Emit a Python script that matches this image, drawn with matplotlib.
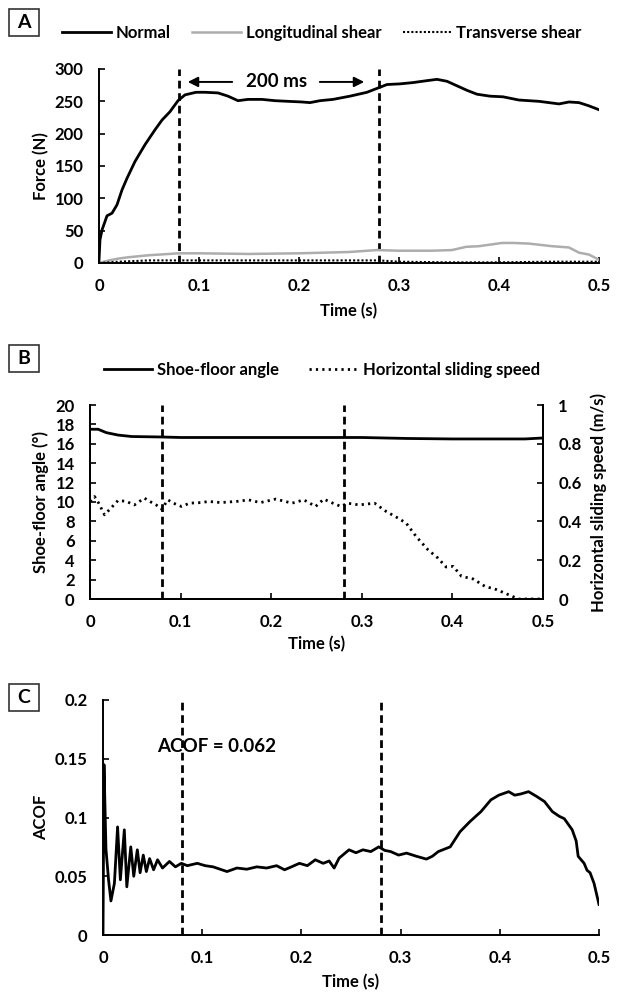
import numpy as np
import matplotlib.pyplot as plt
from matplotlib.patches import Rectangle

plt.rcParams['font.family'] = ['Lato', 'DejaVu Sans']
plt.rcParams['font.weight'] = 'bold'

# Panel A: forces (N)
normal_t = [0, 0.001, 0.003, 0.008, 0.013, 0.018, 0.023, 0.028, 0.036, 0.046,
            0.056, 0.063, 0.071, 0.079, 0.086, 0.097, 0.106, 0.119, 0.129, 0.139,
            0.149, 0.163, 0.176, 0.189, 0.203, 0.211, 0.221, 0.234, 0.251, 0.268,
            0.278, 0.288, 0.301, 0.314, 0.328, 0.338, 0.348, 0.358, 0.368, 0.378,
            0.391, 0.404, 0.42, 0.44, 0.46, 0.47, 0.48, 0.49, 0.5]
normal_f = [4, 36, 51, 73, 77, 90, 113, 131, 157, 183,
            206, 221, 234, 251, 260, 264, 264, 263, 258, 251,
            253, 253, 251, 250, 249, 248, 251, 253, 258, 264,
            270, 276, 277, 279, 282, 284, 281, 274, 267, 261,
            258, 257, 252, 250, 246, 249, 248, 243, 237]

long_t = [0, 0.005, 0.01, 0.02, 0.03, 0.05, 0.08, 0.1, 0.15, 0.2, 0.25, 0.278,
          0.3, 0.333, 0.353, 0.367, 0.38, 0.403, 0.415, 0.43, 0.453, 0.47, 0.48,
          0.49, 0.5]
long_f = [0, 2, 4, 7, 9, 12, 15, 15, 14, 15, 17, 20,
          19, 19, 20, 25, 26, 31, 31, 30, 26, 24, 16,
          13, 5]

trans_t = [0, 0.02, 0.05, 0.1, 0.2, 0.28, 0.3, 0.35, 0.4, 0.45, 0.5]
trans_f = [0, 2, 4, 4, 4, 4, 2, 1, 1, 2, 2]

# Panel B: shoe-floor angle (deg) and sliding speed (m/s)
angle_t = [0, 0.009, 0.018, 0.031, 0.046, 0.08, 0.1, 0.2, 0.3, 0.35, 0.4, 0.48, 0.5]
angle_v = [17.5, 17.5, 17.15, 16.9, 16.75, 16.7, 16.65, 16.65, 16.65, 16.55, 16.5, 16.5, 16.6]

speed_t = [0, 0.005, 0.0096, 0.016, 0.023, 0.031, 0.040, 0.049, 0.060, 0.066,
           0.073, 0.079, 0.086, 0.092, 0.101, 0.110, 0.123, 0.131, 0.144, 0.162,
           0.175, 0.188, 0.205, 0.223, 0.236, 0.249, 0.258, 0.268, 0.277, 0.284,
           0.297, 0.314, 0.327, 0.340, 0.349, 0.360, 0.373, 0.384, 0.393, 0.401,
           0.410, 0.423, 0.436, 0.449, 0.462, 0.473, 0.5]
speed_v = [0.503, 0.528, 0.494, 0.434, 0.468, 0.508, 0.503, 0.485, 0.52, 0.503,
           0.485, 0.463, 0.511, 0.494, 0.477, 0.494, 0.497, 0.503, 0.497, 0.503,
           0.511, 0.497, 0.515, 0.494, 0.511, 0.477, 0.515, 0.494, 0.477, 0.494,
           0.485, 0.494, 0.451, 0.417, 0.391, 0.322, 0.254, 0.211, 0.165, 0.168,
           0.117, 0.103, 0.065, 0.048, 0.022, 0.0, 0.0]

# Panel C: ACOF
acof_t = [0, 0.001, 0.003, 0.0056, 0.008, 0.0115, 0.0147, 0.0175, 0.0215, 0.024,
          0.028, 0.031, 0.0346, 0.0374, 0.0406, 0.0437, 0.047, 0.051, 0.055, 0.060,
          0.067, 0.073, 0.079, 0.085, 0.095, 0.103, 0.111, 0.118, 0.125, 0.135,
          0.145, 0.155, 0.165, 0.175, 0.183, 0.190, 0.198, 0.206, 0.214, 0.222,
          0.228, 0.233, 0.238, 0.248, 0.255, 0.262, 0.270, 0.278, 0.284, 0.290,
          0.298, 0.306, 0.316, 0.326, 0.332, 0.338, 0.35, 0.36, 0.37, 0.381,
          0.391, 0.399, 0.409, 0.415, 0.421, 0.429, 0.437, 0.445, 0.453, 0.46,
          0.465, 0.473, 0.477, 0.479, 0.485, 0.488, 0.491, 0.495, 0.5]
acof_v = [0.0, 0.145, 0.073, 0.047, 0.029, 0.044, 0.092, 0.047, 0.0895, 0.041,
          0.075, 0.05, 0.0725, 0.053, 0.068, 0.054, 0.065, 0.0555, 0.064, 0.057,
          0.0626, 0.058, 0.061, 0.059, 0.061, 0.059, 0.058, 0.056, 0.054, 0.057,
          0.056, 0.058, 0.057, 0.059, 0.0555, 0.058, 0.061, 0.059, 0.064, 0.061,
          0.063, 0.057, 0.0654, 0.0725, 0.070, 0.0725, 0.071, 0.075, 0.072, 0.071,
          0.068, 0.0697, 0.067, 0.0646, 0.067, 0.071, 0.075, 0.088, 0.0966, 0.105,
          0.115, 0.119, 0.122, 0.119, 0.120, 0.122, 0.118, 0.1136, 0.105, 0.101,
          0.099, 0.0895, 0.080, 0.067, 0.061, 0.055, 0.053, 0.044, 0.026]

t_marks = [0.08, 0.28]
x_ticks = [0, 0.1, 0.2, 0.3, 0.4, 0.5]
x_labels = ['0', '0.1', '0.2', '0.3', '0.4', '0.5']

FS = 12
W, H = 619, 1002
fig = plt.figure(figsize=(W / 100, H / 100), dpi=100)


def px_axes(l, r, t, b):
    return fig.add_axes([l / W, 1 - b / H, (r - l) / W, (b - t) / H])


def style(ax, right=False):
    ax.spines['top'].set_visible(False)
    ax.spines['right'].set_visible(right)
    for s in ax.spines.values():
        s.set_linewidth(1.4)
    ax.tick_params(direction='in', length=4, width=1.2, labelsize=FS, pad=11)
    ax.set_xlim(0, 0.5)
    ax.set_xticks(x_ticks)
    ax.set_xticklabels(x_labels)
    for lab in ax.get_xticklabels() + ax.get_yticklabels():
        lab.set_fontweight('bold')


def marks(ax):
    for tm in t_marks:
        ax.axvline(tm, color='black', lw=2.0, ls=(0, (2.8, 1.7)), zorder=1)


def box(x, y, letter):
    fig.patches.append(Rectangle((x / W, 1 - (y + 27) / H), 30 / W, 27 / H,
                                 transform=fig.transFigure, fill=False,
                                 edgecolor='#333333', lw=1.2))
    fig.text((x + 15) / W, 1 - (y + 13.5) / H, letter, ha='center', va='center',
             fontsize=14, fontweight='bold')


# ---- A ----
axA = px_axes(99, 599, 69, 263)
marks(axA)
lN, = axA.plot(normal_t, normal_f, color='black', lw=2.0, label='Normal')
lL, = axA.plot(long_t, long_f, color='#adadad', lw=1.8, label='Longitudinal shear')
lT, = axA.plot(trans_t, trans_f, color='black', lw=1.5, ls=(0, (1, 1)),
               label='Transverse shear')
axA.set_ylim(0, 300)
axA.set_yticks(range(0, 301, 50))
style(axA)
axA.set_xlabel('Time (s)', fontsize=FS, fontweight='bold')
axA.xaxis.set_label_coords(0.5, -0.205)
axA.set_ylabel('Force (N)', fontsize=FS, fontweight='bold')
axA.yaxis.set_label_coords(-0.1, 0.5)
axA.annotate('', xy=(0.086, 280), xytext=(0.136, 280),
             arrowprops=dict(arrowstyle='-|>', color='black', lw=1.4,
                             mutation_scale=15))
axA.annotate('', xy=(0.268, 280), xytext=(0.218, 280),
             arrowprops=dict(arrowstyle='-|>', color='black', lw=1.4,
                             mutation_scale=15))
axA.text(0.178, 280, '200 ms', ha='center', va='center', fontsize=13.5,
         fontweight='bold')
fig.legend(handles=[lN, lL, lT], loc='center', bbox_to_anchor=(322 / W, 1 - 33 / H),
           ncol=3, frameon=False, handlelength=2.9,
           handletextpad=0.3, columnspacing=1.3,
           prop={'weight': 'bold', 'size': FS})
box(9, 9, 'A')

# ---- B ----
axB = px_axes(90, 543, 405, 599)
marks(axB)
lA, = axB.plot(angle_t, angle_v, color='black', lw=2.0, label='Shoe-floor angle')
axB.set_ylim(0, 20)
axB.set_yticks(range(0, 21, 2))
style(axB, right=True)
axB.set_xlabel('Time (s)', fontsize=FS, fontweight='bold')
axB.xaxis.set_label_coords(0.5, -0.19)
axB.set_ylabel('Shoe-floor angle (°)', fontsize=FS, fontweight='bold')
axB.yaxis.set_label_coords(-0.09, 0.5)
axB2 = axB.twinx()
lS, = axB2.plot(speed_t, speed_v, color='black', lw=2.0, ls=(0, (0.8, 1.5)),
                label='Horizontal sliding speed')
axB2.set_ylim(0, 1)
axB2.set_yticks([0, 0.2, 0.4, 0.6, 0.8, 1.0])
axB2.set_yticklabels(['0', '0.2', '0.4', '0.6', '0.8', '1'])
axB2.spines['top'].set_visible(False)
for s in axB2.spines.values():
    s.set_linewidth(1.4)
axB2.tick_params(direction='in', length=4, width=1.2, labelsize=FS, pad=11)
for lab in axB2.get_yticklabels():
    lab.set_fontweight('bold')
axB2.set_ylabel('Horizontal sliding speed (m/s)', fontsize=FS, fontweight='bold')
axB2.yaxis.set_label_coords(1.105, 0.5)
fig.legend(handles=[lA, lS], loc='center', bbox_to_anchor=(322 / W, 1 - 370 / H),
           ncol=2, frameon=False, handlelength=2.9, handletextpad=0.3,
           columnspacing=1.8, prop={'weight': 'bold', 'size': FS})
box(9, 345, 'B')

# ---- C ----
axC = px_axes(103, 599, 700, 935)
marks(axC)
axC.plot(acof_t, acof_v, color='black', lw=2.0)
axC.set_ylim(0, 0.2)
axC.set_yticks([0, 0.05, 0.1, 0.15, 0.2])
axC.set_yticklabels(['0', '0.05', '0.1', '0.15', '0.2'])
style(axC)
axC.set_xlabel('Time (s)', fontsize=FS, fontweight='bold')
axC.xaxis.set_label_coords(0.5, -0.165)
axC.set_ylabel('ACOF', fontsize=FS, fontweight='bold')
axC.yaxis.set_label_coords(-0.108, 0.5)
axC.text(0.055, 0.16, 'ACOF = 0.062', ha='left', va='center', fontsize=13.5,
         fontweight='bold')
box(9, 684, 'C')

fig.savefig('out.png', dpi=100)
